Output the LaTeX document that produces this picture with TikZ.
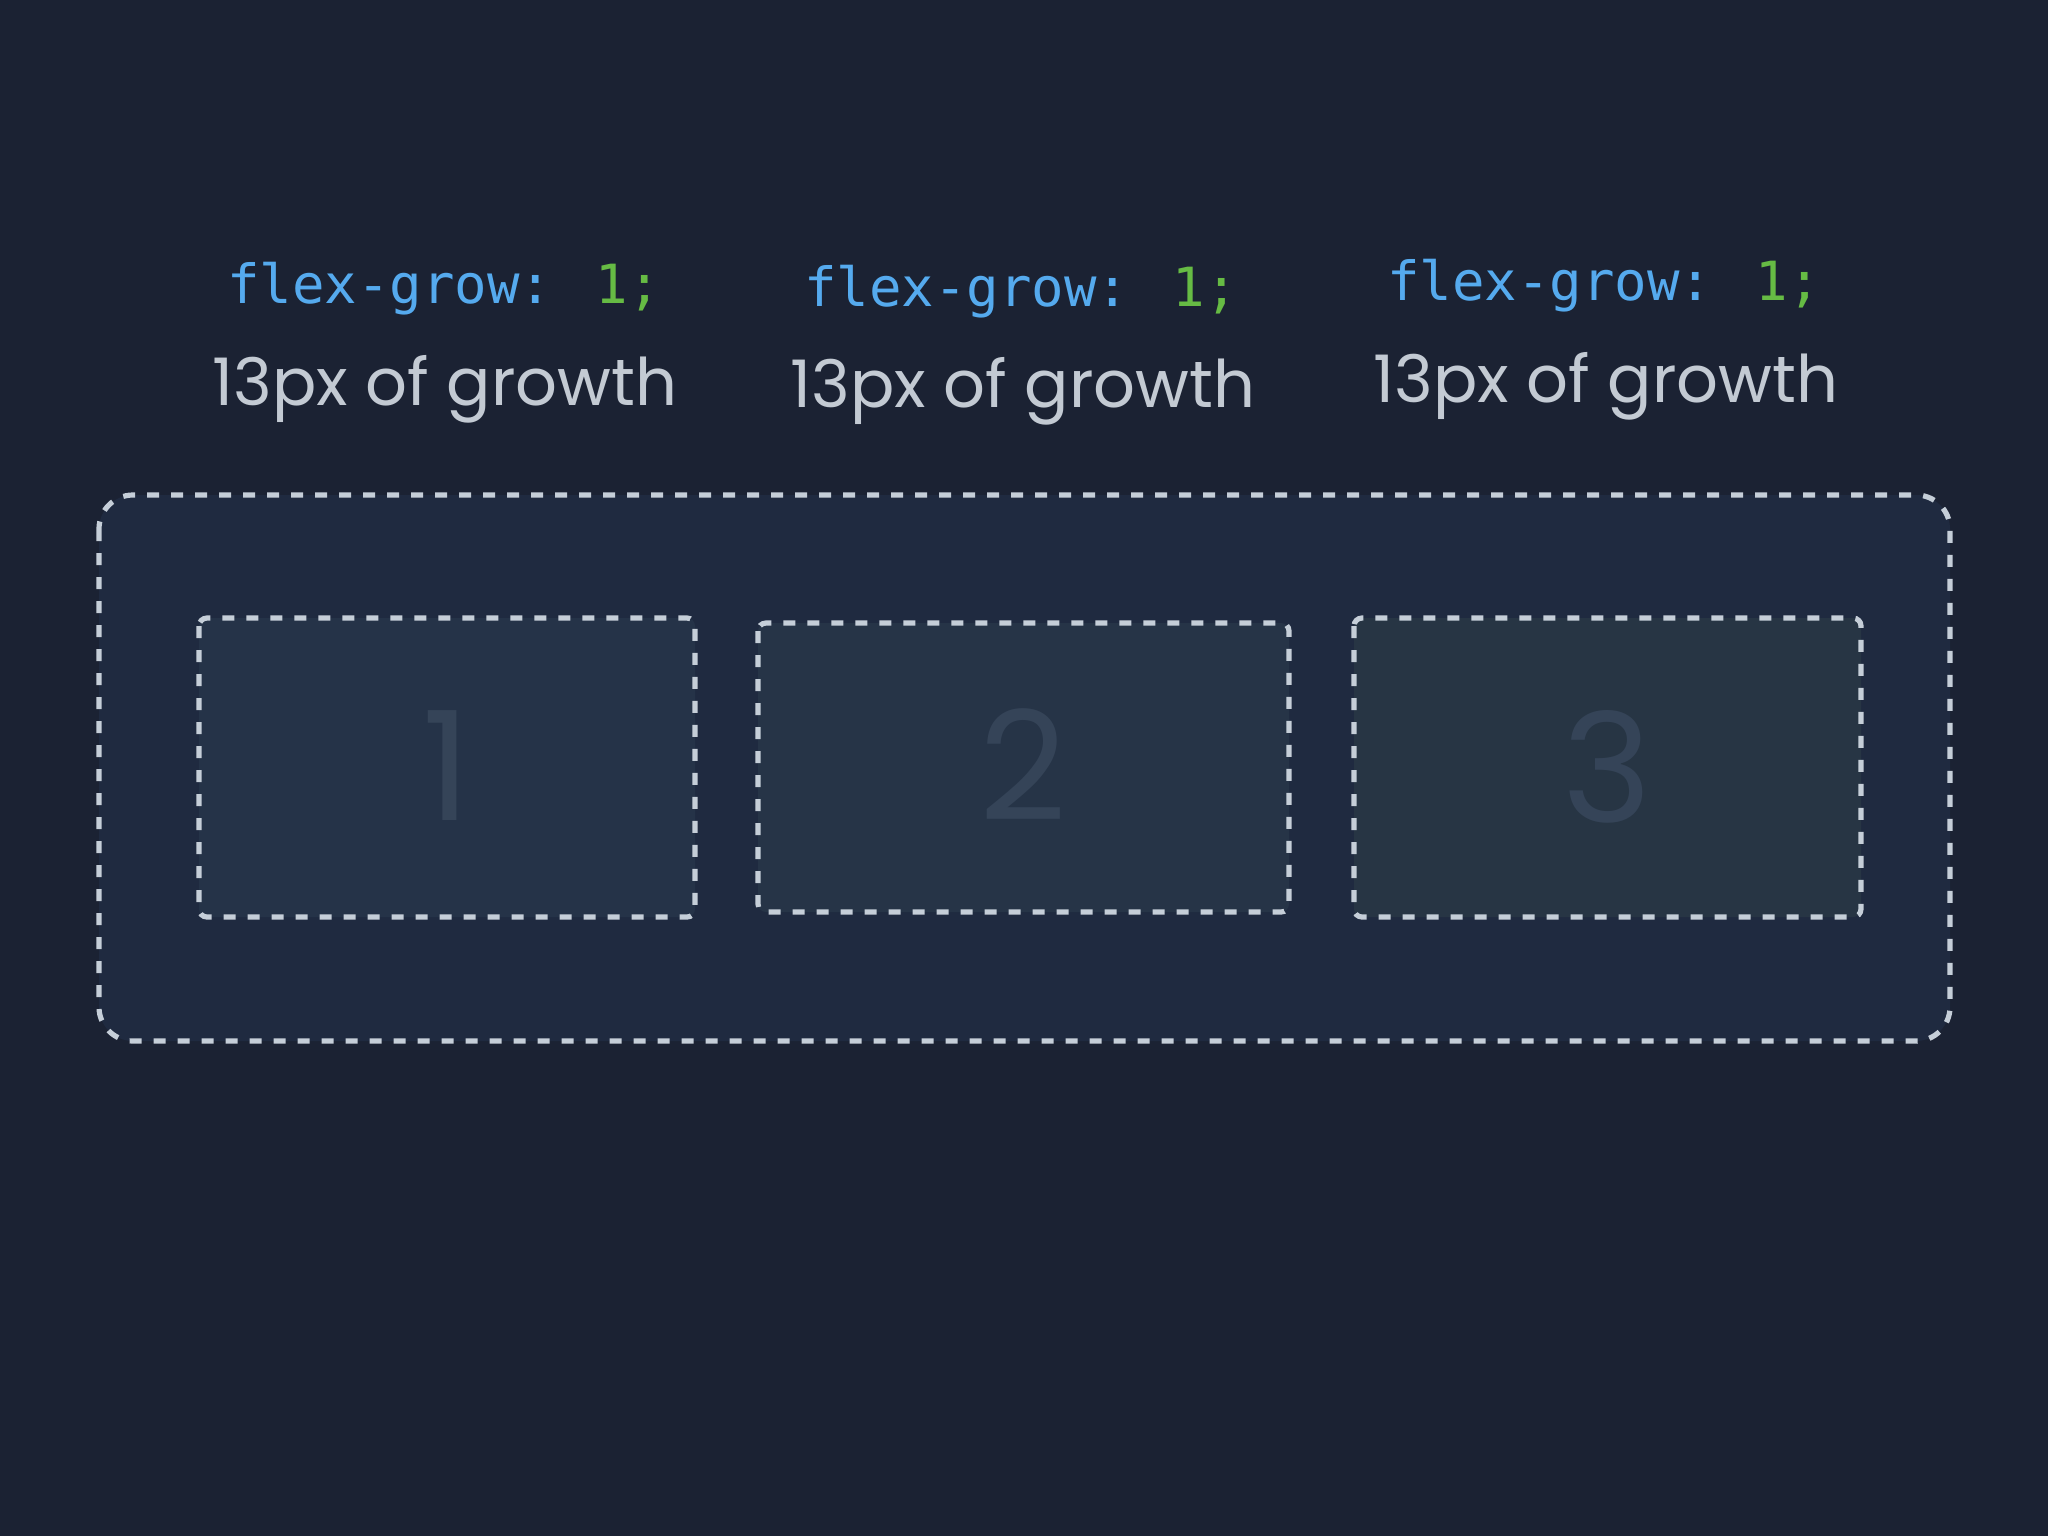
\documentclass[tikz,border=0pt]{standalone}
\usepackage{fontspec}
\setmainfont{Poppins}
\newfontfamily\codefont{DejaVu Sans Mono}
\definecolor{bgc}{HTML}{1B2233}
\definecolor{outerc}{HTML}{1F2A40}
\definecolor{boxa}{HTML}{253348}
\definecolor{boxb}{HTML}{263447}
\definecolor{boxc}{HTML}{273544}
\definecolor{dashc}{HTML}{C5CED8}
\definecolor{propc}{HTML}{55AAEE}
\definecolor{valc}{HTML}{66BB44}
\definecolor{labc}{HTML}{C3CAD3}
\definecolor{numc}{HTML}{354458}
\tikzset{
  dashbox/.style={draw=dashc, line width=2.6pt, dash pattern=on 6pt off 6pt},
  codetxt/.style={anchor=base, inner sep=0pt, font=\codefont\fontsize{27}{32}\selectfont},
  labtxt/.style={anchor=base, inner sep=0pt, text=labc, font=\fontsize{32.8}{40}\selectfont},
  numtxt/.style={anchor=base, inner sep=0pt, text=numc, font=\fontsize{76}{90}\selectfont},
}
\begin{document}
\begin{tikzpicture}[x=0.5pt,y=-0.5pt]
\fill[bgc] (0,0) rectangle (2048,1536);
\useasboundingbox (0,0) rectangle (2048,1536);
\draw[dashbox, fill=outerc, rounded corners=17pt] (99,495) rectangle (1950,1041);
\draw[dashbox, fill=boxa, rounded corners=4pt] (199,618) rectangle (695,917);
\draw[dashbox, fill=boxb, rounded corners=4pt] (758,623) rectangle (1289,912);
\draw[dashbox, fill=boxc, rounded corners=4pt] (1354,618) rectangle (1861,917);
\node[numtxt] (n1) at (447,820) {1};
\node[numtxt] (n2) at (1023,820) {2};
\node[numtxt] (n3) at (1607,822) {3};
\node[codetxt] (c1) at (444,303) {\textcolor{propc}{flex-grow:} \textcolor{valc}{1;}};
\node[codetxt] (c2) at (1021,306) {\textcolor{propc}{flex-grow:} \textcolor{valc}{1;}};
\node[codetxt] (c3) at (1604,300) {\textcolor{propc}{flex-grow:} \textcolor{valc}{1;}};
\node[labtxt] (l1) at (445,405) {13px of growth};
\node[labtxt] (l2) at (1023,407) {13px of growth};
\node[labtxt] (l3) at (1606,402) {13px of growth};
\end{tikzpicture}
\end{document}
